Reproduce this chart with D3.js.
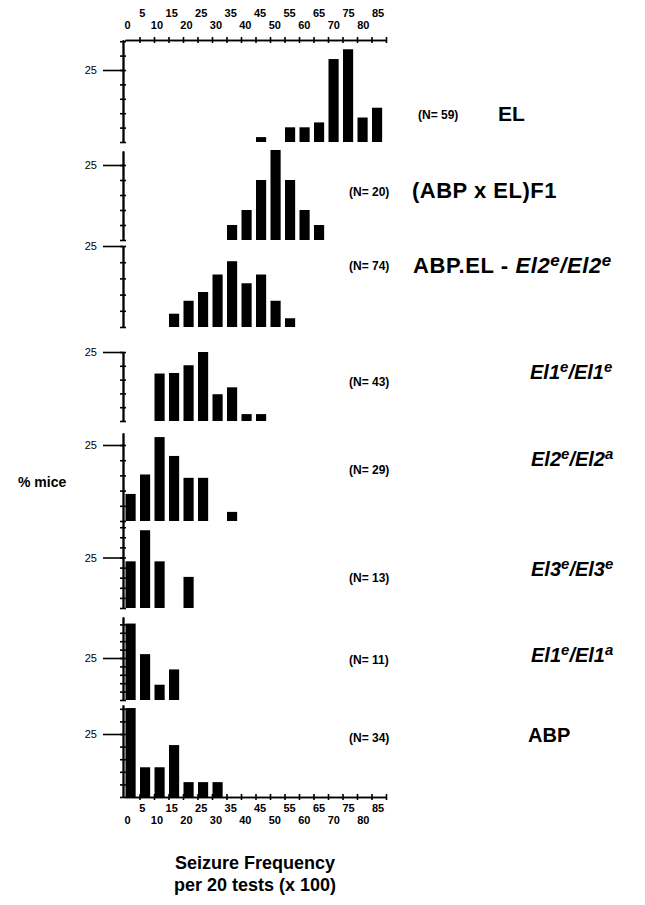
<!DOCTYPE html>
<html>
<head>
<meta charset="utf-8">
<script src="https://cdn.jsdelivr.net/npm/d3@7/dist/d3.min.js"></script>
<style>
  body { margin: 0; background: #fff; }
  text { font-family: "Liberation Sans", Arial, Helvetica, sans-serif; fill: #000; }
</style>
</head>
<body>
<div id="stage"></div>
<script>
var stage_width = 645;
var stage_height = 905;

// seizure frequency bins (x 100, per 20 tests)
var bin_values = [0, 5, 10, 15, 20, 25, 30, 35, 40, 45, 50, 55, 60, 65, 70, 75, 80, 85];
var axis_labels_odd = [5, 15, 25, 35, 45, 55, 65, 75, 85];
var axis_labels_even = [0, 10, 20, 30, 40, 50, 60, 70, 80];

// % mice in each bin, one pair of arrays per group
var el_bins = [45, 55, 60, 65, 70, 75, 80, 85];
var el_pct = [1.7, 5.1, 5.1, 6.8, 28.8, 32.2, 8.5, 11.9];
var f1_bins = [35, 40, 45, 50, 55, 60, 65];
var f1_pct = [5, 10, 20, 30, 20, 10, 5];
var abpel_bins = [15, 20, 25, 30, 35, 40, 45, 50, 55];
var abpel_pct = [4.1, 8.1, 10.8, 16.2, 20.3, 13.5, 16.2, 8.1, 2.7];
var el1e_bins = [10, 15, 20, 25, 30, 35, 40, 45];
var el1e_pct = [17.2, 17.4, 20.2, 25, 9.7, 12.2, 2.5, 2.5];
var el2e_bins = [0, 5, 10, 15, 20, 25, 35];
var el2e_pct = [8.9, 15.3, 27.6, 21.4, 14.2, 14.2, 3.0];
var el3e_bins = [0, 5, 10, 20];
var el3e_pct = [23.1, 38.5, 23.1, 15.4];
var el1a_bins = [0, 5, 10, 15];
var el1a_pct = [45.5, 27.3, 9.1, 18.2];
var abp_bins = [0, 5, 10, 15, 20, 25, 30];
var abp_pct = [35.3, 11.8, 11.8, 20.6, 5.9, 5.9, 5.9];

var group_n = [59, 20, 74, 43, 29, 13, 11, 34];
// label pieces: n = normal bold, i = italic bold, s = italic superscript
var group_labels = [
  [["EL", "n"]],
  [["(ABP x EL)F1", "n"]],
  [["ABP.EL - ", "n"], ["El2", "i"], ["e", "s"], ["/El2", "i"], ["e", "s"]],
  [["El1", "i"], ["e", "s"], ["/El1", "i"], ["e", "s"]],
  [["El2", "i"], ["e", "s"], ["/El2", "i"], ["a", "s"]],
  [["El3", "i"], ["e", "s"], ["/El3", "i"], ["e", "s"]],
  [["El1", "i"], ["e", "s"], ["/El1", "i"], ["a", "s"]],
  [["ABP", "n"]]
];

// panel layout (pixels)
var panel_bottom = [142, 240, 327, 421, 521, 608, 700, 797];
var panel_y25 = [70, 165, 246, 352, 445, 557.5, 658, 734];
var panel_top = [40, 151, 246, 352, 433, 521, 617, 705];
var n_x = [418, 349, 349, 349, 349, 349, 349, 349];
var n_y = [119, 196, 270, 386, 474, 582, 664, 742];
var label_x = [498, 412, 413, 530, 531, 531, 531, 528];
var label_y = [121, 198, 273, 379, 466, 576, 662, 742];
var label_size = [21, 22, 22, 20, 20, 20, 20, 20];
var label_spacing = [0, 0.5, 0.6, 0, 0, 0, 0, 0];

document.onload = build_scene();

function build_scene() {
  var svg = d3
    .select("#stage")
    .append("svg")
    .attr("width", stage_width)
    .attr("height", stage_height);

  var groups = [
    [el_bins, el_pct],
    [f1_bins, f1_pct],
    [abpel_bins, abpel_pct],
    [el1e_bins, el1e_pct],
    [el2e_bins, el2e_pct],
    [el3e_bins, el3e_pct],
    [el1a_bins, el1a_pct],
    [abp_bins, abp_pct]
  ];

  // x: one band per bin, ticks on the band edges, labels near band centres
  var x = d3.scaleBand().domain(bin_values).range([125, 386]);
  var x_edge = d3.scaleLinear().domain([0, 90]).range([125, 386]);
  var x_label = d3.scaleLinear().domain([0, 85]).range([127.5, 378]);

  draw_x_axis(svg, x_edge, x_label, 40, 17, 29);
  draw_x_axis(svg, x_edge, x_label, 797, 812, 824);

  groups.forEach(function(grp, i) {
    var bottom = panel_bottom[i];
    var y = d3.scaleLinear().domain([0, 25]).range([bottom, panel_y25[i]]);
    var top_pct = y.invert(panel_top[i]);
    var y_axis = d3.scaleLinear().domain([0, top_pct]).range([bottom, panel_top[i]]);
    var tick_vals = d3.range(0, top_pct + 0.01, 5);

    var g = svg.append("g").attr("transform", "translate(123,0)");
    g.append("g").call(
      d3.axisLeft(y_axis).tickValues(tick_vals).tickSize(3).tickSizeOuter(0).tickFormat("")
    );
    g.append("g").call(
      d3.axisRight(y_axis).tickValues(tick_vals).tickSize(3).tickSizeOuter(0).tickFormat("")
    );
    var g25 = g.append("g").call(
      d3.axisLeft(y_axis).tickValues([25]).tickSize(20).tickPadding(6).tickSizeOuter(0).tickFormat(d3.format("d"))
    );
    g25.selectAll("text").attr("font-size", "11px").attr("fill", "#000");
    g.selectAll("path, line").attr("stroke", "#000").attr("stroke-width", 1.6);

    var bars = grp[0].map(function(b, j) {
      return { bin: b, pct: grp[1][j] };
    });
    svg
      .append("g")
      .selectAll("rect")
      .data(bars)
      .enter()
      .append("rect")
      .attr("x", function(d) {
        return x(d.bin) + 0.5;
      })
      .attr("width", x.bandwidth() * 0.7)
      .attr("y", function(d) {
        return y(d.pct);
      })
      .attr("height", function(d) {
        return bottom - y(d.pct);
      })
      .attr("fill", "#000");

    // (N= ..) and group name
    svg
      .append("text")
      .attr("x", n_x[i])
      .attr("y", n_y[i])
      .attr("font-size", "12px")
      .attr("font-weight", "bold")
      .text("(N= " + group_n[i] + ")");

    var lab = svg
      .append("text")
      .attr("x", label_x[i])
      .attr("y", label_y[i])
      .attr("font-size", label_size[i] + "px")
      .attr("letter-spacing", label_spacing[i])
      .attr("font-weight", "bold");
    var raised = false;
    group_labels[i].forEach(function(part) {
      var t = lab.append("tspan").text(part[0]);
      if (part[1] == "s") {
        t.attr("font-style", "italic").attr("font-size", (label_size[i] - 5) + "px");
        if (!raised) t.attr("dy", "-7");
        raised = true;
      } else {
        if (part[1] == "i") t.attr("font-style", "italic");
        if (raised) t.attr("dy", "7");
        raised = false;
      }
    });
  });

  // y title
  svg
    .append("text")
    .attr("x", 18)
    .attr("y", 487)
    .attr("font-size", "14px")
    .attr("font-weight", "bold")
    .text("% mice");

  // x title
  svg
    .append("text")
    .attr("x", 255)
    .attr("y", 869)
    .attr("text-anchor", "middle")
    .attr("font-size", "18px")
    .attr("font-weight", "bold")
    .text("Seizure Frequency");
  svg
    .append("text")
    .attr("x", 255)
    .attr("y", 891)
    .attr("text-anchor", "middle")
    .attr("font-size", "18px")
    .attr("font-weight", "bold")
    .text("per 20 tests (x 100)");
}

function draw_x_axis(svg, x_edge, x_label, y_pos, y_odd, y_even) {
  var edges = d3.range(5, 91, 5);
  var g = svg.append("g").attr("transform", "translate(0," + y_pos + ")");
  g.append("g").call(d3.axisTop(x_edge).tickValues(edges).tickSize(3).tickSizeOuter(0).tickFormat(""));
  g.append("g").call(d3.axisBottom(x_edge).tickValues(edges).tickSize(3).tickSizeOuter(0).tickFormat(""));
  g.selectAll("path, line").attr("stroke", "#000").attr("stroke-width", 1.6);

  svg
    .append("g")
    .selectAll("text")
    .data(axis_labels_odd)
    .enter()
    .append("text")
    .attr("x", function(d) {
      return x_label(d);
    })
    .attr("y", y_odd)
    .attr("text-anchor", "middle")
    .attr("font-size", "11px")
    .attr("font-weight", "bold")
    .text(function(d) {
      return d;
    });
  svg
    .append("g")
    .selectAll("text")
    .data(axis_labels_even)
    .enter()
    .append("text")
    .attr("x", function(d) {
      return x_label(d);
    })
    .attr("y", y_even)
    .attr("text-anchor", "middle")
    .attr("font-size", "11px")
    .attr("font-weight", "bold")
    .text(function(d) {
      return d;
    });
}
</script>
</body>
</html>
